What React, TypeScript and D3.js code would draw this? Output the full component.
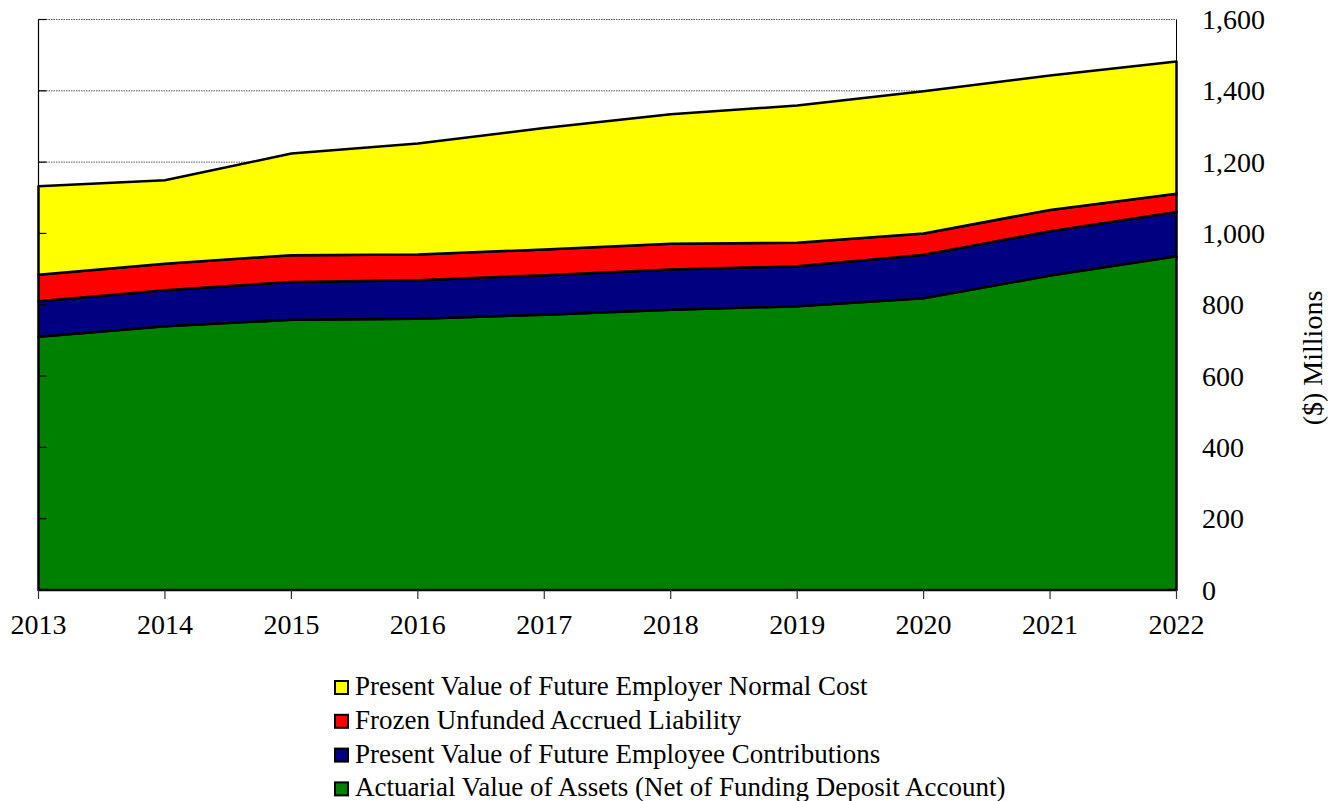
import React from "react";
import * as d3 from "d3";

const years = [2013, 2014, 2015, 2016, 2017, 2018, 2019, 2020, 2021, 2022];
const assets = [710, 740, 758, 761, 772, 786, 796, 818, 882, 936];
const employeeContrib = [100, 101, 106, 108, 111, 113, 112, 122, 124, 124];
const frozenUAL = [74, 74, 75, 72, 72, 72, 66, 60, 60, 51];
const employerNC = [248, 234, 285, 311, 341, 363, 385, 399, 377, 371];
const yTicks = [0, 200, 400, 600, 800, 1000, 1200, 1400, 1600];
const gridTicks = [1200, 1400, 1600];

const seriesKeys = ["assets", "employee", "frozen", "employer"];
const seriesColors: Record<string, string> = {
  assets: "#008000",
  employee: "#000080",
  frozen: "#FF0000",
  employer: "#FFFF00",
};
const legendItems = [
  { key: "employer", label: "Present Value of Future Employer Normal Cost" },
  { key: "frozen", label: "Frozen Unfunded Accrued Liability" },
  { key: "employee", label: "Present Value of Future Employee Contributions" },
  { key: "assets", label: "Actuarial Value of Assets (Net of Funding Deposit Account)" },
];

const W = 1342;
const H = 801;
const L = 38.5;
const R = 1176.5;
const T = 19.5;
const B = 590;
const FONT = "'Liberation Serif', 'Times New Roman', serif";

export default function App() {
  const rows = years.map((y, i) => ({
    year: y,
    assets: assets[i],
    employee: employeeContrib[i],
    frozen: frozenUAL[i],
    employer: employerNC[i],
  }));
  const stack = d3.stack<any>().keys(seriesKeys);
  const stacked = stack(rows);

  const x = d3.scaleLinear().domain([years[0], years[years.length - 1]]).range([L, R]);
  const y = d3.scaleLinear().domain([0, 1600]).range([B, T]);

  const area = d3
    .area<any>()
    .x((d) => x(d.data.year))
    .y0((d) => y(d[0]))
    .y1((d) => y(d[1]));

  return (
    <svg width={W} height={H} style={{ display: "block", position: "absolute", left: 0, top: 0 }}>
      <rect x={0} y={0} width={W} height={H} fill="#fff" />
      {gridTicks.map((t) => (
        <line
          key={t}
          x1={L}
          x2={R}
          y1={y(t)}
          y2={y(t)}
          stroke="#555"
          strokeWidth={1}
          strokeDasharray="1.5,1"
        />
      ))}
      <line x1={L} x2={L} y1={T} y2={B} stroke="#000" strokeWidth={1.2} />
      <line x1={R} x2={R} y1={T} y2={B} stroke="#000" strokeWidth={1} />
      {stacked.map((s) => (
        <path
          key={s.key}
          d={area(s as any) || ""}
          fill={seriesColors[s.key]}
          stroke="#000"
          strokeWidth={2.5}
          strokeLinejoin="round"
        />
      ))}
      {yTicks.map((t) => (
        <line key={"lt" + t} x1={L} x2={L + 8} y1={y(t)} y2={y(t)} stroke="#000" strokeWidth={1.2} />
      ))}
      <line x1={L} x2={R} y1={B} y2={B} stroke="#000" strokeWidth={2} />
      {years.map((yr) => (
        <line key={"xt" + yr} x1={x(yr)} x2={x(yr)} y1={B} y2={B + 9} stroke="#333" strokeWidth={1.2} />
      ))}
      {years.map((yr) => (
        <text
          key={"xl" + yr}
          x={x(yr)}
          y={634}
          textAnchor="middle"
          fontFamily={FONT}
          fontSize={28}
          fill="#000"
        >
          {yr}
        </text>
      ))}
      {yTicks.map((t) => (
        <text
          key={"yl" + t}
          x={1202}
          y={y(t) + 9.5}
          textAnchor="start"
          fontFamily={FONT}
          fontSize={28}
          fill="#000"
        >
          {d3.format(",")(t)}
        </text>
      ))}
      <text
        transform={`translate(1322,358) rotate(-90)`}
        textAnchor="middle"
        fontFamily={FONT}
        fontSize={28}
        fill="#000"
      >
        ($) Millions
      </text>
      {legendItems.map((item, i) => {
        const base = 695 + i * 33.8;
        const cy = base - 7.5;
        return (
          <g key={item.key}>
            <rect
              x={335}
              y={cy - 6.5}
              width={13}
              height={13}
              fill={seriesColors[item.key]}
              stroke="#000"
              strokeWidth={2}
            />
            <text x={355} y={base} fontFamily={FONT} fontSize={27} fill="#000">
              {item.label}
            </text>
          </g>
        );
      })}
    </svg>
  );
}
